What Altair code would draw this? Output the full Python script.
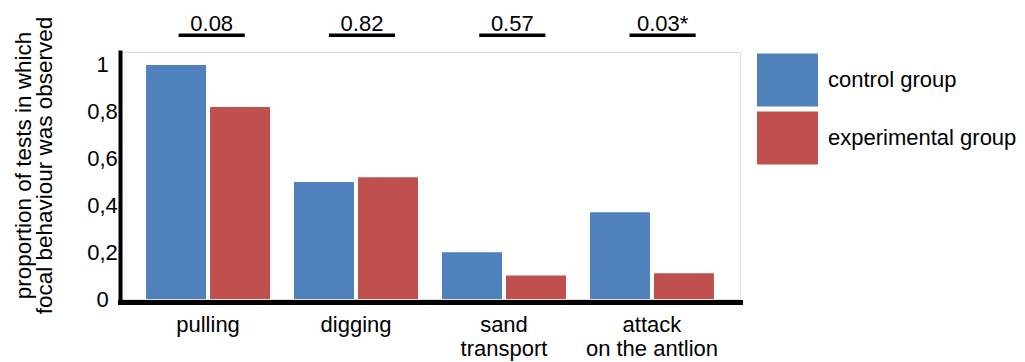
import altair as alt
import pandas as pd

# ---- data ----
behaviours = ["pulling", "digging", "sand\ntransport", "attack\non the antlion"]
groups = ["control group", "experimental group"]
control = [1.00, 0.50, 0.20, 0.37]
experimental = [0.82, 0.52, 0.10, 0.11]
p_values = ["0.08", "0.82", "0.57", "0.03*"]
y_ticks = [0, 0.2, 0.4, 0.6, 0.8, 1]
colors = ["#4F81BD", "#C0504D"]

rows = []
for b, c, e in zip(behaviours, control, experimental):
    rows.append({"behaviour": b, "group": groups[0], "value": c})
    rows.append({"behaviour": b, "group": groups[1], "value": e})
df = pd.DataFrame(rows)
pdf = pd.DataFrame({"behaviour": behaviours, "p": p_values})

FONT = "Liberation Sans"

bars = alt.Chart(df).mark_bar().encode(
    x=alt.X(
        "behaviour:N",
        sort=behaviours,
        scale=alt.Scale(paddingInner=0.162, paddingOuter=0.176),
        axis=alt.Axis(
            title=None, labelAngle=0, labelExpr="split(datum.label, '\\n')",
            ticks=False, tickSize=0, domainWidth=5, domainCap="square",
            domainColor="black", offset=3, labelPadding=12, labelFontSize=22,
            labelBaseline="top", labelLineHeight=24, labelColor="black",
            labelFont=FONT,
        ),
    ),
    xOffset=alt.XOffset("group:N", sort=groups,
                        scale=alt.Scale(paddingInner=0.0625, paddingOuter=0)),
    y=alt.Y(
        "value:Q",
        scale=alt.Scale(domain=[0, 1.055], nice=False),
        axis=alt.Axis(
            values=y_ticks,
            labelExpr="replace(format(datum.value, '~g'), '.', ',')",
            grid=False, ticks=False, tickSize=0, domainWidth=4,
            domainCap="square", domainColor="black",
            labelAlign="center", labelBaseline="middle", labelPadding=18,
            labelFontSize=22, labelColor="black", labelFont=FONT,
            title=["proportion of tests in which", "focal behaviour was observed"],
            titleFontSize=22.5, titleLineHeight=21, titleFontWeight="normal",
            titleFont=FONT, titleColor="black",
            titleX=-97, titleY=113, titleAlign="center",
            titleBaseline="middle", titleAngle=-90,
        ),
    ),
    color=alt.Color(
        "group:N",
        sort=groups,
        scale=alt.Scale(domain=groups, range=colors),
        legend=alt.Legend(
            title=None, orient="none", legendX=637, legendY=-2.5,
            symbolType="M-1,-0.87H1V0.87H-1Z", symbolSize=3721,
            symbolStrokeWidth=0, labelFontSize=22, labelOffset=10,
            rowPadding=-1, padding=0, labelColor="black", labelFont=FONT,
            labelLimit=400,
        ),
    ),
)

ann_x = alt.X(
    "behaviour:N", sort=behaviours,
    scale=alt.Scale(type="band", paddingInner=0, paddingOuter=0.0625, align=0.88),
    axis=None,
)

ptext = alt.Chart(pdf).mark_text(
    fontSize=22, baseline="alphabetic", font=FONT, color="black"
).encode(x=ann_x, y=alt.value(-21), text="p:N")

pline = alt.Chart(pdf).mark_bar(
    width=alt.RelativeBandSize(0.44), color="black"
).encode(x=ann_x, y=alt.value(-18.5), y2=alt.value(-15))

chart = (
    alt.layer(bars, pline, ptext)
    .resolve_scale(x="independent")
    .properties(
        width=620, height=247,
        autosize=alt.AutoSizeParams(type="none"),
        padding={"left": 112, "top": 44, "right": 277, "bottom": 66},
    )
    .configure_view(stroke=None)
    .configure(font=FONT)
)

chart.save("out.html", embed_options={"renderer": "svg", "actions": False})
